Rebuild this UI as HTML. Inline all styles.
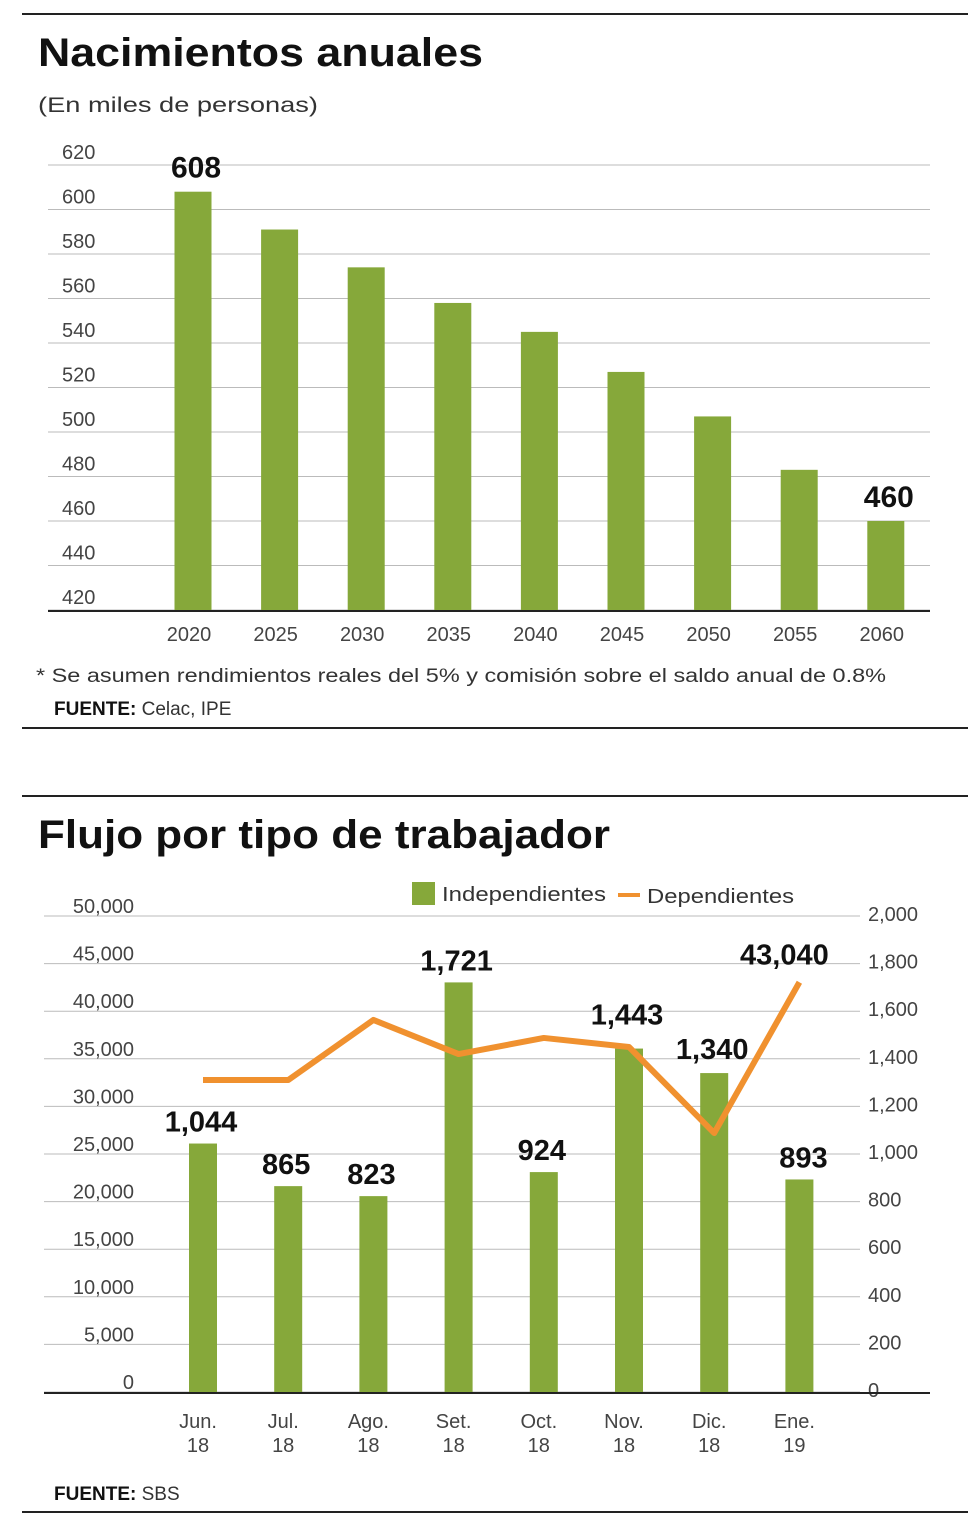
<!DOCTYPE html>
<html><head><meta charset="utf-8"><style>
body{margin:0;background:#fff;font-family:"Liberation Sans",sans-serif;}
svg{display:block}
</style></head><body>
<svg id="s" width="980" height="1540" xmlns="http://www.w3.org/2000/svg" font-family="Liberation Sans, sans-serif">
<line x1="22" y1="14" x2="968" y2="14" stroke="#222" stroke-width="2"/>
<text x="38" y="66" font-size="40" font-weight="bold" fill="#111" textLength="445" lengthAdjust="spacingAndGlyphs">Nacimientos anuales</text>
<text x="38" y="112" font-size="21" fill="#333" textLength="280" lengthAdjust="spacingAndGlyphs">(En miles de personas)</text>
<g id="c1"></g>
<text x="36" y="682" font-size="19" fill="#333" textLength="850" lengthAdjust="spacingAndGlyphs">* Se asumen rendimientos reales del 5% y comisión sobre el saldo anual de 0.8%</text>
<text x="54" y="715" font-size="19" fill="#333"><tspan font-weight="bold" fill="#111">FUENTE:</tspan> Celac, IPE</text>
<line x1="22" y1="728" x2="968" y2="728" stroke="#222" stroke-width="2"/>
<line x1="22" y1="796" x2="968" y2="796" stroke="#222" stroke-width="2"/>
<text x="38" y="848" font-size="40" font-weight="bold" fill="#111" textLength="572" lengthAdjust="spacingAndGlyphs">Flujo por tipo de trabajador</text>
<rect x="412" y="882" width="23" height="23" fill="#86a83a"/>
<text x="442" y="901" font-size="20" fill="#333" textLength="164" lengthAdjust="spacingAndGlyphs">Independientes</text>
<line x1="618" y1="895" x2="640" y2="895" stroke="#f0912f" stroke-width="4"/>
<text x="647" y="903" font-size="20" fill="#333" textLength="147" lengthAdjust="spacingAndGlyphs">Dependientes</text>
<g id="c2"></g>
<text x="54" y="1500" font-size="19" fill="#333"><tspan font-weight="bold" fill="#111">FUENTE:</tspan> SBS</text>
<line x1="22" y1="1512" x2="968" y2="1512" stroke="#222" stroke-width="2"/>
</svg>
<script>
const years=["2020","2025","2030","2035","2040","2045","2050","2055","2060"];
const births=[608,591,574,558,545,527,507,483,460];
const births_ticks=[420,440,460,480,500,520,540,560,580,600,620];
const months=[["Jun.","18"],["Jul.","18"],["Ago.","18"],["Set.","18"],["Oct.","18"],["Nov.","18"],["Dic.","18"],["Ene.","19"]];
const indep=[1044,865,823,1721,924,1443,1340,893];
const dep=[32770,32770,39080,35500,37190,36240,27200,43040];
const leftTicks=[0,5000,10000,15000,20000,25000,30000,35000,40000,45000,50000];
const rightTicks=[0,200,400,600,800,1000,1200,1400,1600,1800,2000];
const NS="http://www.w3.org/2000/svg";
function mk(p,t,a,txt){const e=document.createElementNS(NS,t);for(const k in a)e.setAttribute(k,a[k]);if(txt!==undefined)e.textContent=txt;p.appendChild(e);return e;}
const fmt=v=>v.toLocaleString("en-US");
// chart 1
const c1=document.getElementById("c1");
const y1=v=>610-(v-420)*2.225, x1=i=>193+i*86.6;
births_ticks.forEach(t=>{
 const l=mk(c1,"line",{x1:48,x2:930,y1:y1(t),y2:y1(t),stroke:"#bbb","stroke-width":1});
 
 
 const tx=mk(c1,"text",{x:62,y:y1(t)-6,"font-size":20,fill:"#444"},t);
 
 
});
births.forEach((v,i)=>{
 const r=mk(c1,"rect",{x:x1(i)-18.5,y:y1(v),width:37,height:610-y1(v),fill:"#86a83a"});
 
 
 const t=mk(c1,"text",{x:x1(i)-4,y:641,"font-size":20,fill:"#444","text-anchor":"middle"},years[i]);
 
 
 if(i==0||i==births.length-1){
  const lb=mk(c1,"text",{x:x1(i)+3,y:y1(v)-14,"font-size":30,"font-weight":"bold",fill:"#111","text-anchor":"middle"},fmt(v));
  
  
 }
});
const b1=mk(c1,"line",{x1:48,x2:930,y1:611,y2:611,stroke:"#222","stroke-width":2});


// chart 2
const c2=document.getElementById("c2");
const yl=v=>1392-v/50000*476, yr=v=>1392-v/2000*476, x2=i=>203+i*85.2;
leftTicks.forEach((t,i)=>{
 const g=mk(c2,"line",{x1:44,x2:860,y1:yl(t),y2:yl(t),stroke:"#bbb","stroke-width":1});
 
 
 const tx=mk(c2,"text",{x:134,y:yl(t)-3,"font-size":20,fill:"#444","text-anchor":"end"},fmt(t));
 
 
});
rightTicks.forEach(t=>{
 const tx=mk(c2,"text",{x:868,y:yr(t)+5,"font-size":20,fill:"#444"},fmt(t));
 
 
});
indep.forEach((v,i)=>{
 const r=mk(c2,"rect",{x:x2(i)-14,y:yr(v),width:28,height:1392-yr(v),fill:"#86a83a"});
 
 
 const a=mk(c2,"text",{x:x2(i)-5,y:1428,"font-size":20,fill:"#444","text-anchor":"middle"},months[i][0]);
 
 
 const b=mk(c2,"text",{x:x2(i)-5,y:1452,"font-size":20,fill:"#444","text-anchor":"middle"},months[i][1]);
 
 
});
const b2=mk(c2,"line",{x1:44,x2:930,y1:1393,y2:1393,stroke:"#222","stroke-width":2});


const pl=mk(c2,"polyline",{points:dep.map((v,i)=>x2(i)+","+yl(v)).join(" "),fill:"none",stroke:"#f0912f","stroke-width":6,"stroke-linejoin":"round"});


indep.forEach((v,i)=>{
 if(i==indep.length-1)return;
 let y=yr(v)-12;
 if(i==5)y=yr(v)-24;
 if(i==6)y=yr(v)-14;
 const lb=mk(c2,"text",{x:x2(i)-2,y:y,"font-size":29,"font-weight":"bold",fill:"#111","text-anchor":"middle"},fmt(v));
 
 
});
const last=indep.length-1;
const lb2=mk(c2,"text",{x:x2(last)+4,y:yr(indep[last])-12,"font-size":29,"font-weight":"bold",fill:"#111","text-anchor":"middle"},fmt(indep[last]));


const ll=mk(c2,"text",{x:x2(last)-15,y:yl(dep[last])-18,"font-size":29,"font-weight":"bold",fill:"#111","text-anchor":"middle"},fmt(dep[last]));


</script>
</body></html>
